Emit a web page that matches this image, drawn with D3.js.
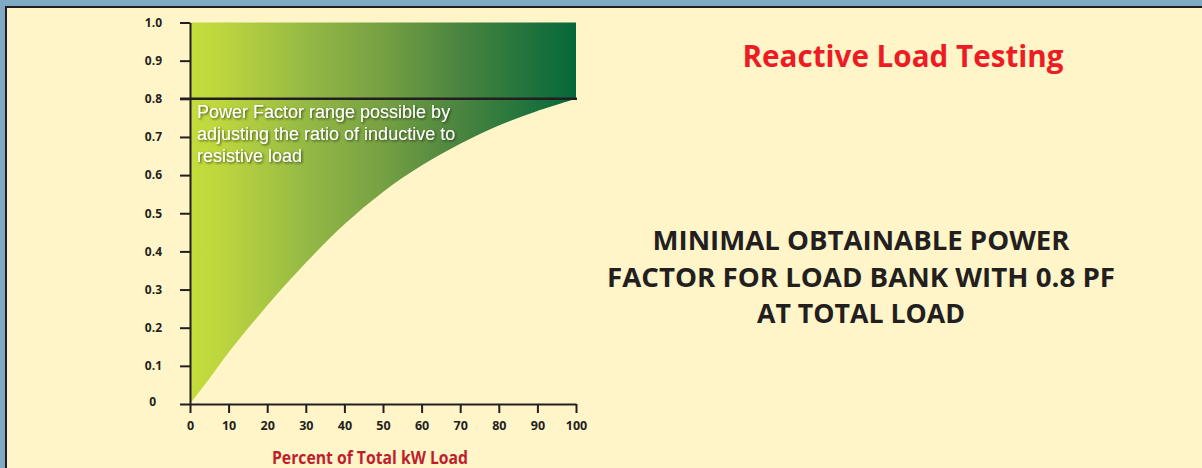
<!DOCTYPE html>
<html>
<head>
<meta charset="utf-8">
<script src="https://cdn.jsdelivr.net/npm/d3@7"></script>
<style>
  html, body { margin: 0; padding: 0; background: #7faac6; }
  svg { display: block; }
</style>
</head>
<body>
<div id="chart"></div>
<script>
// Percent of total kW load vs. the lowest power factor reachable
const loadPct = [0, 5, 10, 20, 30, 40, 50, 60, 70, 80, 90, 100];
const minPF = [0, 0.066, 0.135, 0.258, 0.37, 0.471, 0.556, 0.625, 0.682, 0.73, 0.768, 0.8];
const maxPF = 1.0;
const fullLoadPF = 0.8;

const xTicks = [0, 10, 20, 30, 40, 50, 60, 70, 80, 90, 100];
const yTicks = [0, 0.1, 0.2, 0.3, 0.4, 0.5, 0.6, 0.7, 0.8, 0.9, 1.0];
const yTickLabels = ["0", "0.1", "0.2", "0.3", "0.4", "0.5", "0.6", "0.7", "0.8", "0.9", "1.0"];

const noteLines = ["Power Factor range possible by", "adjusting the ratio of inductive to", "resistive load"];
const headLines = ["MINIMAL OBTAINABLE POWER", "FACTOR FOR LOAD BANK WITH 0.8 PF", "AT TOTAL LOAD"];

const W = 1202, H = 468;
const INK = "#231f20";

const svg = d3.select("#chart").append("svg")
  .attr("width", W)
  .attr("height", H);

// cream panel with a dark rule on top and left
svg.append("rect").attr("x", 5).attr("y", 6).attr("width", W).attr("height", H).attr("fill", INK);
svg.append("rect").attr("x", 7).attr("y", 8).attr("width", W).attr("height", H).attr("fill", "#fff5c9");

const x = d3.scaleLinear().domain([0, 100]).range([190, 576]);
const y = d3.scaleLinear().domain([0, 1]).range([404, 22.5]);

// horizontal gradient, yellow-green to deep green
const defs = svg.append("defs");
const grad = defs.append("linearGradient")
  .attr("id", "pf-grad")
  .attr("gradientUnits", "userSpaceOnUse")
  .attr("x1", x(0)).attr("x2", x(100)).attr("y1", 0).attr("y2", 0);
[[0, "#c4dd3b"], [0.08, "#bdd63e"], [0.3, "#95b945"], [0.5, "#76a043"],
 [0.7, "#4a8440"], [0.9, "#1b713c"], [1, "#05683a"]].forEach(([o, c]) => {
  grad.append("stop").attr("offset", o).attr("stop-color", c);
});

const shadow = defs.append("filter").attr("id", "txt-shadow")
  .attr("x", "-5%").attr("y", "-20%").attr("width", "110%").attr("height", "140%");
shadow.append("feDropShadow")
  .attr("dx", 1.2).attr("dy", 1.2).attr("stdDeviation", 0.8)
  .attr("flood-color", "#1a2a10").attr("flood-opacity", 0.75);

const pts = loadPct.map((p, i) => ({ p, pf: minPF[i] }));
const area = d3.area()
  .x((d) => x(d.p))
  .y0((d) => y(d.pf))
  .y1(y(maxPF))
  .curve(d3.curveCatmullRom);

svg.append("path")
  .datum(pts)
  .attr("d", area)
  .attr("fill", "url(#pf-grad)");

// axes
const yAxis = svg.append("g")
  .attr("transform", `translate(${x(0)},0)`)
  .call(d3.axisLeft(y).tickValues(yTicks).tickSize(10).tickSizeOuter(0).tickPadding(18)
    .tickFormat((d, i) => yTickLabels[i]));

const xAxis = svg.append("g")
  .attr("transform", `translate(0,${y(0)})`)
  .call(d3.axisBottom(x).tickValues(xTicks).tickSize(9).tickSizeOuter(0).tickPadding(8));

[yAxis, xAxis].forEach((g) => {
  g.select(".domain").attr("stroke", INK).attr("stroke-width", 2);
  g.selectAll(".tick line").attr("stroke", INK).attr("stroke-width", 2);
  g.selectAll(".tick text")
    .attr("fill", INK)
    .style("font-family", "'Open Sans', sans-serif")
    .style("font-weight", 700)
    .style("font-size", "12px");
});
xAxis.selectAll(".tick text").style("font-size", "12.5px");
yAxis.selectAll(".tick text").filter((d) => d === 0).attr("dx", -6).attr("dy", "0.15em");

// full-load PF rule
svg.append("line")
  .attr("x1", x(0) - 10).attr("x2", x(100) + 1)
  .attr("y1", y(fullLoadPF)).attr("y2", y(fullLoadPF))
  .attr("stroke", INK).attr("stroke-width", 2.5);

// note inside the band
svg.append("g")
  .selectAll("text")
  .data(noteLines)
  .join("text")
  .attr("x", 197)
  .attr("y", (d, i) => 118 + i * 21.8)
  .attr("fill", "#ffffff")
  .attr("filter", "url(#txt-shadow)")
  .style("font-family", "'Liberation Sans', Arial, sans-serif")
  .style("font-size", "18px")
  .text((d) => d);

// x axis title
svg.append("text")
  .attr("x", (x(0) + x(100)) / 2 - 13)
  .attr("y", 464)
  .attr("text-anchor", "middle")
  .attr("fill", "#be1e2d")
  .attr("textLength", 196)
  .attr("lengthAdjust", "spacingAndGlyphs")
  .style("font-family", "'Open Sans', sans-serif")
  .style("font-weight", 700)
  .style("font-size", "17.5px")
  .text("Percent of Total kW Load");

// title
svg.append("text")
  .attr("x", 903)
  .attr("y", 67)
  .attr("text-anchor", "middle")
  .attr("fill", "#ed1c24")
  .attr("textLength", 321)
  .attr("lengthAdjust", "spacingAndGlyphs")
  .style("font-family", "'Open Sans', sans-serif")
  .style("font-weight", 700)
  .style("font-size", "31px")
  .text("Reactive Load Testing");

const headWidths = [417, 508, 208];
svg.append("g")
  .selectAll("text")
  .data(headLines)
  .join("text")
  .attr("x", 861)
  .attr("y", (d, i) => 250 + i * 36.7)
  .attr("text-anchor", "middle")
  .attr("fill", INK)
  .attr("textLength", (d, i) => headWidths[i])
  .attr("lengthAdjust", "spacingAndGlyphs")
  .style("font-family", "'Open Sans', sans-serif")
  .style("font-weight", 700)
  .style("font-size", "27px")
  .text((d) => d);
</script>
</body>
</html>
